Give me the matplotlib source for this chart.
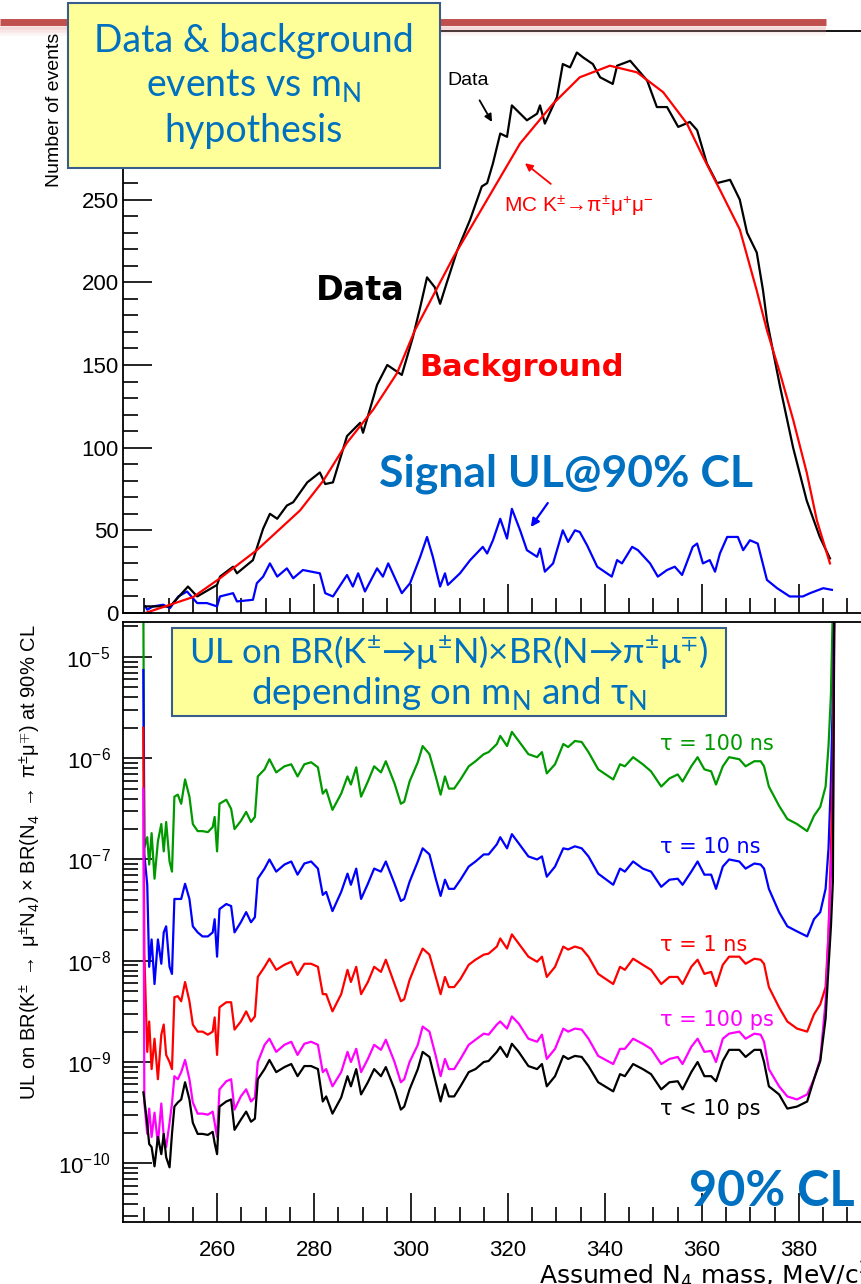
import numpy as np
import matplotlib
matplotlib.use("Agg")
import matplotlib.pyplot as plt
from matplotlib.patches import Rectangle
from matplotlib.lines import Line2D
from matplotlib.ticker import MultipleLocator, LogLocator, NullFormatter, FuncFormatter

W, H = 861, 1284

# ---- top panel: data, MC background, signal upper limit (events) ----
mass_data = [245.2, 250.3, 254.0, 255.9, 260.0, 260.6, 263.3, 264.1, 267.4, 268.5,
             269.5, 270.9, 272.4, 274.4, 275.7, 278.6, 281.2, 282.3, 283.9, 286.8,
             289.5, 290.1, 293.0, 295.1, 298.1, 299.2, 300.4, 301.9, 303.3, 304.9,
             306.0, 307.4, 309.5, 312.2, 314.6, 315.7, 316.9, 318.4, 319.8, 320.8,
             323.9, 326.0, 326.6, 327.6, 330.1, 331.3, 332.8, 334.2, 335.5, 337.5,
             339.0, 341.6, 342.5, 345.2, 348.7, 350.7, 352.8, 355.1, 357.5, 359.0,
             361.0, 363.1, 365.8, 367.8, 369.3, 371.3, 372.6, 373.4, 376.1, 378.8,
             381.6, 384.3, 386.4]
events_data = [4, 4, 16, 10, 17, 22, 28, 24, 32, 42,
               51, 60, 57, 65, 67, 79, 85, 78, 79, 107,
               115, 109, 138, 150, 144, 155, 167, 185, 203, 197,
               187, 200, 219, 238, 258, 260, 272, 290, 288, 307,
               298, 302, 307, 296, 312, 332, 330, 339, 336, 332,
               324, 320, 331, 334, 322, 306, 306, 294, 297, 292,
               272, 260, 262, 250, 230, 218, 195, 177, 137, 100,
               68, 46, 33]

mass_mc = [245.2, 255.1, 260.6, 268.2, 277.1, 281.9, 286.8, 292.2, 297.1, 300.8,
           308.7, 315.7, 322.5, 329.3, 334.8, 341.0, 346.6, 352.0, 356.9, 360.2,
           363.7, 367.8, 371.3, 373.4, 376.1, 378.8, 381.6, 383.7, 386.4]
events_mc = [0, 9.7, 21, 38, 62, 80, 103, 123, 145, 171,
             215, 250, 284, 308, 324, 331, 327, 315, 296, 276,
             256, 232, 195, 171, 145, 117, 85, 56, 30]

mass_sig = [245.2, 245.6, 246.8, 248.9, 250.3, 252.0, 253.8, 255.9, 257.9, 260.0,
            260.6, 263.3, 264.1, 267.4, 268.2, 269.5, 270.9, 272.4, 274.4, 275.7,
            277.7, 281.2, 282.3, 283.9, 286.8, 288.0, 289.1, 290.5, 293.0, 294.2,
            295.3, 298.1, 299.8, 301.9, 303.3, 304.5, 306.0, 307.0, 307.6, 310.1,
            312.2, 314.8, 315.7, 316.9, 318.4, 319.8, 320.8, 322.5, 323.9, 326.0,
            326.6, 327.6, 329.3, 331.3, 332.4, 333.8, 334.8, 336.3, 338.4, 341.4,
            342.5, 343.5, 345.6, 346.8, 349.3, 350.9, 352.8, 354.4, 355.9, 358.1,
            359.0, 360.2, 361.6, 362.7, 363.7, 365.2, 367.4, 368.5, 369.9, 371.5,
            373.4, 375.5, 378.1, 380.8, 382.3, 385.0, 386.8]
events_sig = [4, 2, 4, 5, 3, 10, 13, 6, 6, 4,
              10, 12, 7, 8, 18, 22, 30, 22, 27, 21,
              26, 24, 12, 10, 23, 16, 24, 13, 27, 22,
              30, 12, 18, 34, 46, 34, 16, 24, 17, 24,
              32, 40, 36, 44, 57, 45, 63, 50, 38, 34,
              39, 25, 30, 50, 43, 50, 49, 41, 28, 22,
              32, 30, 40, 38, 30, 22, 26, 28, 23, 40,
              42, 30, 32, 25, 36, 46, 46, 38, 44, 42,
              20, 15, 10, 10, 12, 15, 14]

# ---- bottom panel: upper limits, stored as log10(UL) ----
mass_ul = [244.8, 245.0, 245.6, 246.0, 246.5, 247.1, 247.8, 248.5, 249.0, 249.5,
           250.2, 250.7, 251.2, 251.9, 252.6, 253.4, 254.3, 255.0, 256.0, 257.0,
           258.1, 259.1, 259.5, 260.0, 260.5, 261.9, 262.9, 263.6, 264.9, 266.0,
           267.0, 267.8, 268.4, 269.8, 270.8, 272.2, 273.9, 275.3, 276.6, 278.0,
           279.4, 280.8, 281.8, 282.5, 283.8, 285.6, 286.9, 287.6, 288.7, 289.7,
           291.1, 292.4, 293.8, 294.8, 296.6, 297.9, 298.6, 299.7, 301.4,
           302.4, 303.8, 305.1, 306.1, 307.0, 307.8, 308.9, 310.2, 311.9, 313.3,
           315.0, 316.0, 317.7, 318.4, 319.8, 320.8, 322.2, 324.2, 326.0, 327.0,
           328.0, 329.7, 331.4, 332.4, 333.8, 335.2, 336.6, 338.6, 341.7, 343.1,
           344.1, 345.8, 347.8, 349.5, 351.6, 353.3, 355.0, 356.0, 357.8, 359.1,
           360.5, 361.9, 362.9, 364.3, 365.6, 367.7, 369.0, 370.8, 372.1, 372.8,
           373.8, 375.9, 377.6, 379.6, 381.7, 383.1, 384.4, 385.5, 386.1, 386.6,
           387.0, 387.3]

log_ul_100ns = [-4.5, -6.88, -6.78, -7.05, -6.74, -7.19, -6.82, -6.65, -6.92, -6.63,
                -7.02, -7.12, -6.38, -6.36, -6.45, -6.21, -6.38, -6.65, -6.72, -6.72,
                -6.73, -6.68, -6.58, -6.92, -6.45, -6.41, -6.50, -6.70, -6.62, -6.53,
                -6.63, -6.58, -6.18, -6.11, -6.01, -6.14, -6.08, -6.06, -6.18, -6.06,
                -6.04, -6.09, -6.35, -6.31, -6.51, -6.35, -6.18, -6.26, -6.09, -6.38,
                -6.23, -6.08, -6.14, -6.03, -6.25, -6.45, -6.43, -6.23, -6.04,
                -5.88, -5.96, -6.18, -6.36, -6.18, -6.30, -6.30, -6.21, -6.08, -6.03,
                -5.96, -5.94, -5.86, -5.78, -5.88, -5.74, -5.83, -5.96, -5.99, -5.94,
                -6.15, -6.06, -5.86, -5.89, -5.83, -5.84, -5.94, -6.11, -6.21, -6.06,
                -6.08, -5.99, -6.06, -6.13, -6.28, -6.20, -6.16, -6.23, -6.08, -5.99,
                -6.11, -6.13, -6.26, -6.08, -5.99, -6.01, -6.08, -6.03, -6.03, -6.08,
                -6.28, -6.47, -6.60, -6.65, -6.72, -6.57, -6.48, -6.28, -5.88, -5.37,
                -4.5, -4.4]

log_ul_10ns = [-5.13, -6.95, -7.25, -8.06, -7.79, -8.23, -7.79, -8.03, -7.72, -7.66,
               -8.06, -8.13, -7.39, -7.39, -7.39, -7.24, -7.39, -7.66, -7.72, -7.76,
               -7.76, -7.72, -7.59, -7.96, -7.49, -7.44, -7.46, -7.72, -7.62, -7.52,
               -7.62, -7.57, -7.19, -7.09, -7.00, -7.12, -7.05, -7.02, -7.15, -7.04,
               -7.02, -7.09, -7.35, -7.32, -7.51, -7.32, -7.14, -7.25, -7.09, -7.39,
               -7.24, -7.09, -7.12, -7.02, -7.24, -7.41, -7.39, -7.22, -7.02,
               -6.89, -6.95, -7.19, -7.36, -7.20, -7.29, -7.29, -7.20, -7.07, -7.02,
               -6.95, -6.95, -6.85, -6.78, -6.89, -6.75, -6.84, -6.97, -7.00, -6.97,
               -7.17, -7.07, -6.89, -6.90, -6.87, -6.89, -6.97, -7.14, -7.25, -7.09,
               -7.12, -7.02, -7.09, -7.12, -7.27, -7.20, -7.19, -7.25, -7.12, -7.02,
               -7.15, -7.15, -7.29, -7.07, -7.00, -7.02, -7.09, -7.04, -7.05, -7.09,
               -7.29, -7.52, -7.66, -7.71, -7.76, -7.59, -7.52, -7.29, -6.89, -6.21,
               -5.37, -4.5]

log_ul_1ns = [-5.70, -7.93, -8.90, -8.60, -9.07, -8.77, -9.17, -8.73, -8.63, -8.93,
              -9.00, -9.07, -8.36, -8.35, -8.40, -8.21, -8.40, -8.63, -8.70, -8.70,
              -8.73, -8.70, -8.56, -8.93, -8.46, -8.41, -8.41, -8.68, -8.60, -8.50,
              -8.60, -8.55, -8.16, -8.06, -7.98, -8.09, -8.04, -8.01, -8.14, -8.03,
              -8.03, -8.06, -8.33, -8.33, -8.50, -8.33, -8.09, -8.21, -8.06, -8.33,
              -8.21, -8.06, -8.11, -7.99, -8.23, -8.40, -8.38, -8.19, -7.99,
              -7.88, -7.94, -8.16, -8.33, -8.16, -8.26, -8.26, -8.18, -8.04, -7.99,
              -7.94, -7.93, -7.86, -7.78, -7.88, -7.74, -7.83, -7.96, -8.01, -7.96,
              -8.16, -8.06, -7.86, -7.89, -7.86, -7.88, -7.96, -8.13, -8.23, -8.06,
              -8.09, -7.98, -8.04, -8.09, -8.23, -8.16, -8.16, -8.23, -8.06, -7.99,
              -8.13, -8.11, -8.25, -8.04, -7.96, -7.96, -8.03, -7.98, -7.99, -8.03,
              -8.26, -8.46, -8.60, -8.67, -8.70, -8.53, -8.43, -8.26, -7.73, -6.89,
              -6.04, -4.5]

log_ul_100ps = [-6.30, -9.40, -9.71, -9.46, -9.74, -9.50, -9.81, -9.41, -9.74, -9.84,
                -9.60, -9.41, -9.14, -9.17, -9.10, -8.98, -9.17, -9.40, -9.51, -9.51,
                -9.52, -9.49, -9.60, -9.74, -9.27, -9.19, -9.17, -9.47, -9.34, -9.27,
                -9.39, -9.35, -9.00, -8.83, -8.77, -8.90, -8.83, -8.80, -8.93, -8.82,
                -8.80, -8.83, -9.10, -9.07, -9.24, -9.10, -8.90, -9.00, -8.87, -9.10,
                -8.97, -8.83, -8.88, -8.78, -9.00, -9.20, -9.17, -9.00, -8.83,
                -8.65, -8.70, -8.94, -9.14, -8.97, -9.07, -9.07, -8.97, -8.83, -8.78,
                -8.72, -8.73, -8.63, -8.60, -8.67, -8.55, -8.62, -8.77, -8.80, -8.73,
                -8.97, -8.87, -8.67, -8.70, -8.67, -8.68, -8.77, -8.94, -9.02, -8.87,
                -8.87, -8.77, -8.82, -8.87, -9.02, -8.97, -8.95, -9.02, -8.85, -8.77,
                -8.90, -8.89, -9.00, -8.77, -8.72, -8.70, -8.77, -8.72, -8.73, -8.80,
                -9.07, -9.24, -9.34, -9.37, -9.32, -9.17, -8.97, -8.40, -7.73, -7.12,
                -6.72, -4.5]

log_ul_10ps = [-9.30, -9.37, -9.61, -9.81, -9.84, -10.03, -9.74, -9.91, -9.71, -9.94,
               -10.04, -9.71, -9.44, -9.40, -9.37, -9.20, -9.37, -9.60, -9.71, -9.71,
               -9.72, -9.69, -9.80, -9.91, -9.44, -9.39, -9.37, -9.67, -9.57, -9.49,
               -9.59, -9.56, -9.17, -9.07, -8.98, -9.10, -9.05, -9.02, -9.14, -9.04,
               -9.04, -9.07, -9.39, -9.34, -9.51, -9.35, -9.14, -9.24, -9.07, -9.32,
               -9.20, -9.07, -9.14, -9.05, -9.27, -9.47, -9.44, -9.27, -9.07,
               -8.90, -8.95, -9.20, -9.39, -9.22, -9.34, -9.34, -9.24, -9.10, -9.07,
               -9.00, -8.99, -8.90, -8.85, -8.95, -8.82, -8.90, -9.04, -9.07, -9.02,
               -9.24, -9.14, -8.94, -8.97, -8.94, -8.95, -9.04, -9.20, -9.29, -9.12,
               -9.14, -9.02, -9.07, -9.12, -9.27, -9.20, -9.19, -9.27, -9.10, -9.00,
               -9.14, -9.14, -9.19, -8.99, -8.88, -8.88, -8.95, -8.88, -8.88, -9.00,
               -9.24, -9.32, -9.46, -9.44, -9.39, -9.17, -8.99, -8.57, -8.06, -7.66,
               -7.22, -4.5]

tau_labels = ["τ = 100 ns", "τ = 10 ns", "τ = 1 ns", "τ = 100 ps", "τ < 10 ps"]
tau_colors = ["#009900", "#0000ff", "#ff0000", "#ff00ff", "#000000"]
tau_label_log = [-5.86, -6.88, -7.84, -8.59, -9.46]

plt.rcParams["font.family"] = ["Liberation Sans", "DejaVu Sans"]
plt.rcParams["mathtext.fontset"] = "custom"
plt.rcParams["mathtext.rm"] = "Liberation Sans"
plt.rcParams["mathtext.it"] = "Liberation Sans:italic"
plt.rcParams["mathtext.bf"] = "Liberation Sans:bold"

BLUE = "#0070c0"
BOX_FONT = ["Lato", "DejaVu Sans"]


def fx(x):
    return x / W


def fy(y):
    return 1 - y / H


fig = plt.figure(figsize=(W / 100, H / 100), dpi=100)
fig.patch.set_facecolor("white")

# slide header bar
for k, a in enumerate([0.10, 0.18, 0.28]):
    fig.add_artist(Line2D([0, fx(826)], [fy(27 + 3 * (2 - k))] * 2, color="#e8a0a0",
                          lw=4, alpha=a, solid_capstyle="butt"))
fig.add_artist(Line2D([0, fx(826)], [fy(22)] * 2, color="#c0504d", lw=5,
                      solid_capstyle="butt"))


def style_axis(ax):
    ax.spines["right"].set_visible(False)
    for s in ["left", "bottom", "top"]:
        ax.spines[s].set_linewidth(1.3)
    ax.tick_params(which="both", direction="in", width=1.2, labelsize=16,
                   right=False, top=False)
    ax.tick_params(which="major", length=21)
    ax.tick_params(which="minor", length=11)
    ax.xaxis.set_major_locator(MultipleLocator(20))
    ax.xaxis.set_minor_locator(MultipleLocator(5))


# ---- top panel ----
ax1 = fig.add_axes([fx(123), fy(613), fx(W - 123), (613 - 31) / H])
style_axis(ax1)
ax1.plot(mass_sig, events_sig, color="#0000ff", lw=1.6)
ax1.plot(mass_data, events_data, color="black", lw=1.6)
ax1.plot(mass_mc, events_mc, color="#ff0000", lw=1.6)
ax1.set_xlim(240.6, 392.8)
ax1.set_ylim(0, 352)
ax1.yaxis.set_major_locator(MultipleLocator(50))
ax1.yaxis.set_minor_locator(MultipleLocator(10))
# labels above 250 sit under the yellow box on the slide
ax1.yaxis.set_major_formatter(FuncFormatter(lambda v, p: "" if v > 260 else f"{v:.0f}"))
ax1.tick_params(axis="x", labelbottom=False)
ax1.tick_params(axis="y", pad=3)

ax1.annotate("Data", xy=(316.7, 297), xytext=(311.8, 322), fontsize=14,
             ha="center", va="center",
             arrowprops=dict(arrowstyle="-|>", color="black", lw=1.3,
                             shrinkA=7, shrinkB=0, mutation_scale=11))
ax1.annotate(r"MC K$^{\pm}\!\rightarrow\!\mathrm{\pi}^{\pm}\mathrm{\mu}^{+}\mathrm{\mu}^{-}$",
             xy=(323.5, 272), xytext=(334.6, 246), color="#ff0000", fontsize=15,
             ha="center", va="center",
             arrowprops=dict(arrowstyle="-|>", color="#ff0000", lw=1.3,
                             shrinkA=8, shrinkB=0, mutation_scale=11))
ax1.annotate("", xy=(324.7, 52), xytext=(328.2, 66.5),
             arrowprops=dict(arrowstyle="-|>", color="#0000ff", lw=1.6,
                             shrinkA=0, shrinkB=0, mutation_scale=12))

fig.text(fx(55), fy(33), "Number of events", rotation=90, ha="center", va="top",
         fontsize=14)

# ---- bottom panel ----
ax2 = fig.add_axes([fx(123), fy(1222), fx(W - 123), (1222 - 622) / H])
style_axis(ax2)
ax2.set_yscale("log")
curves = [log_ul_100ns, log_ul_10ns, log_ul_1ns, log_ul_100ps, log_ul_10ps]
for vals, col in zip(curves, tau_colors):
    ax2.plot(mass_ul, 10 ** np.array(vals), color=col, lw=1.6)
ax2.set_xlim(240.6, 392.8)
ax2.set_ylim(10 ** -10.58, 10 ** -4.655)
ax2.yaxis.set_major_locator(LogLocator(base=10, numticks=12))
ax2.yaxis.set_minor_locator(LogLocator(base=10, subs=np.arange(2, 10), numticks=12))
ax2.yaxis.set_minor_formatter(NullFormatter())
ax2.tick_params(axis="x", pad=13)
ax2.tick_params(axis="y", pad=9)

for lab, col, ly in zip(tau_labels, tau_colors, tau_label_log):
    ax2.text(351.3, 10 ** ly, lab, color=col, fontsize=15, ha="left",
             va="center", family="DejaVu Sans")

fig.text(fx(30), fy(624),
         r"UL on BR(K$^{\pm}$ $\rightarrow$ $\mathrm{\mu}^{\pm}$N$_{4}$) $\times$ "
         r"BR(N$_{4}$ $\rightarrow$ $\mathrm{\pi}^{\pm}\mathrm{\mu}^{\mp}$) at 90% CL",
         rotation=90, ha="center", va="top", fontsize=14.5)
fig.text(fx(539), fy(1275), r"Assumed N$_{4}$ mass, MeV/c$^{2}$", ha="left",
         va="center", fontsize=18, family="DejaVu Sans", math_fontfamily="dejavusans")

# ---- slide overlays ----
fig.add_artist(Rectangle((fx(68), fy(168)), fx(440 - 68), (168 - 3) / H,
                         transform=fig.transFigure, facecolor="#ffff99",
                         edgecolor="#385d8a", lw=1.5, zorder=5))
fig.text(fx(254), fy(86),
         "Data & background\nevents vs m$_\\mathregular{N}$\nhypothesis",
         ha="center", va="center", color=BLUE, fontsize=27, family=BOX_FONT,
         linespacing=1.3, zorder=6)

fig.add_artist(Rectangle((fx(172), fy(716)), fx(726 - 172), (716 - 628) / H,
                         transform=fig.transFigure, facecolor="#ffff99",
                         edgecolor="#385d8a", lw=1.5, zorder=5))
fig.text(fx(449), fy(652),
         "UL on BR(K$^\\mathregular{±}$→μ$^\\mathregular{±}$N)×BR(N→π$^\\mathregular{±}$μ$^\\mathregular{∓}$)",
         ha="center", va="center", color=BLUE, fontsize=25, family=BOX_FONT,
         zorder=6)
fig.text(fx(449), fy(693), "depending on m$_\\mathregular{N}$ and τ$_\\mathregular{N}$",
         ha="center", va="center", color=BLUE, fontsize=26.5, family=BOX_FONT,
         zorder=6)

fig.text(fx(360), fy(290), "Data", ha="center", va="center", color="black",
         fontsize=24, fontweight="bold", family="DejaVu Sans")
fig.text(fx(522), fy(368), "Background", ha="center", va="center", color="#ff0000",
         fontsize=22, fontweight="bold", family="DejaVu Sans")
fig.text(fx(566), fy(474), "Signal UL@90% CL", ha="center", va="center", color=BLUE,
         fontsize=32, fontweight="bold", family=BOX_FONT)
fig.text(fx(772), fy(1192), "90% CL", ha="center", va="center", color=BLUE,
         fontsize=35, fontweight="bold", family=BOX_FONT)

fig.savefig("out.png", dpi=100)
